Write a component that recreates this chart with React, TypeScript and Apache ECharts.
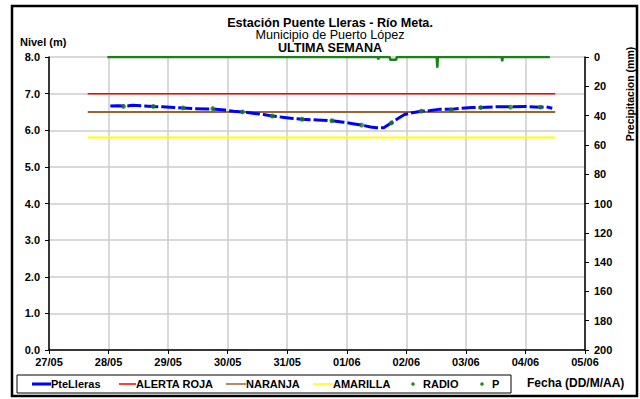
import React, { useEffect, useRef } from "react";
import * as echarts from "echarts";

// x positions are days since 27/05 00:00
const dateLabels = ["27/05", "28/05", "29/05", "30/05", "31/05", "01/06", "02/06", "03/06", "04/06", "05/06"];

const levelDays = [1.03, 1.15, 1.3, 1.4, 1.55, 1.75, 1.9, 2.1, 2.25, 2.45, 2.75, 2.95, 3.1, 3.25, 3.45, 3.6, 3.75, 3.95, 4.1, 4.25, 4.5, 4.75, 4.95, 5.1, 5.25, 5.4, 5.5, 5.62, 5.7, 5.78, 5.88, 5.97, 6.1, 6.25, 6.4, 6.55, 6.75, 6.9, 7.1, 7.25, 7.5, 7.75, 8.0, 8.25, 8.35, 8.45];
const levelValues = [6.66, 6.67, 6.66, 6.68, 6.67, 6.65, 6.64, 6.62, 6.61, 6.59, 6.58, 6.55, 6.52, 6.5, 6.46, 6.43, 6.39, 6.35, 6.32, 6.3, 6.28, 6.26, 6.22, 6.18, 6.14, 6.09, 6.07, 6.07, 6.15, 6.24, 6.34, 6.43, 6.48, 6.52, 6.54, 6.57, 6.57, 6.6, 6.62, 6.62, 6.64, 6.64, 6.65, 6.63, 6.64, 6.6];

const radioDays = [1.25, 1.75, 2.25, 2.75, 3.25, 3.75, 4.25, 4.75, 5.25, 5.75, 6.25, 6.75, 7.25, 7.75, 8.25];
const radioValues = [6.65, 6.65, 6.61, 6.59, 6.5, 6.39, 6.3, 6.26, 6.14, 6.2, 6.52, 6.56, 6.62, 6.63, 6.63];

const precipDays = [0.98, 5.52, 5.53, 5.54, 5.72, 5.73, 5.83, 5.84, 6.51, 6.52, 6.53, 7.6, 7.61, 7.62, 8.41];
const precipValues = [0, 0, 1.6, 0, 0, 1.8, 1.8, 0, 0, 7.3, 0, 0, 3, 0, 0];

const alertaRoja = 7.0;
const naranja = 6.5;
const amarilla = 5.8;
const thresholdStart = 0.65;
const thresholdEnd = 8.5;

const FONT = "'Liberation Sans', Arial, sans-serif";

export default function App() {
  const ref = useRef<HTMLDivElement>(null);
  useEffect(() => {
    if (!ref.current) return;
    const chart = echarts.init(ref.current, null, { renderer: "svg" });
    const pairs = (xs: number[], ys: number[]) => xs.map((x, i) => [x, ys[i]]);
    const flat = (v: number) => [[thresholdStart, v], [thresholdEnd, v]];
    const lbl = { fontFamily: FONT, fontWeight: "bold" as const, fontSize: 11, color: "#000" };
    const txt = { fontFamily: FONT, fontWeight: "bold" as const, fontSize: 11, fill: "#000", verticalAlign: "middle" as const };

    const legendY = 384;
    const legendItems: any[] = [
      { type: "rect", shape: { x: 17, y: 375, width: 494, height: 18 }, style: { fill: "#fff", stroke: "#000", lineWidth: 1 } },
      { type: "line", shape: { x1: 32, y1: legendY, x2: 51, y2: legendY }, style: { stroke: "#0000FF", lineWidth: 3 } },
      { type: "text", x: 51, y: legendY, style: { text: "PteLleras", ...txt } },
      { type: "line", shape: { x1: 119, y1: legendY, x2: 136, y2: legendY }, style: { stroke: "#FF0000", lineWidth: 1.5 } },
      { type: "text", x: 136, y: legendY, style: { text: "ALERTA ROJA", ...txt } },
      { type: "line", shape: { x1: 226, y1: legendY, x2: 246, y2: legendY }, style: { stroke: "#996633", lineWidth: 1.5 } },
      { type: "text", x: 246, y: legendY, style: { text: "NARANJA", ...txt } },
      { type: "line", shape: { x1: 313, y1: legendY, x2: 333, y2: legendY }, style: { stroke: "#FFFF00", lineWidth: 1.5 } },
      { type: "text", x: 333, y: legendY, style: { text: "AMARILLA", ...txt } },
      { type: "circle", shape: { cx: 413, cy: legendY, r: 1.8 }, style: { fill: "#1E8C1E" } },
      { type: "text", x: 423, y: legendY, style: { text: "RADIO", ...txt } },
      { type: "circle", shape: { cx: 482, cy: legendY, r: 1.8 }, style: { fill: "#1E8C1E" } },
      { type: "text", x: 492, y: legendY, style: { text: "P", ...txt } },
    ];

    const titleStyle = (weight: "bold" | "normal") => ({ fontFamily: FONT, fontSize: 12.6, lineHeight: 12, fontWeight: weight, color: "#000" });

    chart.setOption({
      animation: false,
      backgroundColor: "#fff",
      textStyle: { fontFamily: FONT },
      title: [
        { text: "Estación Puente Lleras - Río Meta.", left: 330, top: 16.5, padding: 0, textAlign: "center", textStyle: titleStyle("bold") },
        { text: "Municipio de Puerto López", left: 330, top: 29, padding: 0, textAlign: "center", textStyle: titleStyle("normal") },
        { text: "ULTIMA SEMANA", left: 330, top: 41.5, padding: 0, textAlign: "center", textStyle: titleStyle("bold") },
      ],
      graphic: [
        { type: "rect", shape: { x: 12, y: 6, width: 625, height: 390 }, style: { fill: "none", stroke: "#000", lineWidth: 2.5 } },
        { type: "text", x: 20, y: 42, style: { text: "Nivel (m)", ...txt } },
        { type: "text", x: 630, y: 94, rotation: Math.PI / 2, style: { text: "Precipitacion (mm)", ...txt, fontSize: 10.5, align: "center" } },
        { type: "text", x: 527, y: 383, style: { text: "Fecha (DD/M/AA)", ...txt, fontSize: 12 } },
        ...legendItems,
      ],
      grid: { left: 49, right: 55, top: 57, bottom: 49, containLabel: false },
      xAxis: {
        type: "value",
        min: 0,
        max: 9,
        interval: 1,
        axisLine: { lineStyle: { color: "#000", width: 1.5 } },
        axisTick: { length: 4, lineStyle: { color: "#000" } },
        axisLabel: { ...lbl, margin: 6, formatter: (v: number) => dateLabels[Math.round(v)] ?? "" },
        splitLine: { show: true, lineStyle: { color: "#CCCCCC", width: 1.5 } },
      },
      yAxis: [
        {
          type: "value",
          min: 0,
          max: 8,
          interval: 1,
          axisLine: { show: true, lineStyle: { color: "#000", width: 1.5 } },
          axisTick: { show: true, length: 4, lineStyle: { color: "#000" } },
          axisLabel: { ...lbl, margin: 9, formatter: (v: number) => v.toFixed(1) },
          splitLine: { show: true, lineStyle: { color: "#CCCCCC", width: 1.5 } },
        },
        {
          type: "value",
          min: 0,
          max: 200,
          interval: 20,
          inverse: true,
          position: "right",
          axisLine: { show: true, lineStyle: { color: "#000", width: 1.5 } },
          axisTick: { show: true, length: 4, lineStyle: { color: "#000" } },
          axisLabel: { ...lbl, margin: 9 },
          splitLine: { show: false },
        },
      ],
      series: [
        { name: "ALERTA ROJA", type: "line", data: flat(alertaRoja), symbol: "none", lineStyle: { color: "#FF0000", width: 1.5 }, z: 2 },
        { name: "NARANJA", type: "line", data: flat(naranja), symbol: "none", lineStyle: { color: "#996633", width: 2 }, z: 2 },
        { name: "AMARILLA", type: "line", data: flat(amarilla), symbol: "none", lineStyle: { color: "#FFFF00", width: 2 }, z: 2 },
        { name: "PteLleras", type: "line", data: pairs(levelDays, levelValues), symbol: "none", lineStyle: { color: "#0000FF", width: 3, type: [14, 3] }, z: 3 },
        { name: "RADIO", type: "scatter", data: pairs(radioDays, radioValues), symbol: "circle", symbolSize: 5, itemStyle: { color: "#1A801A" }, z: 4 },
        { name: "P", type: "line", yAxisIndex: 1, data: pairs(precipDays, precipValues), symbol: "none", lineStyle: { color: "#1A801A", width: 2.5 }, z: 4 },
      ],
    });
    return () => chart.dispose();
  }, []);
  return <div ref={ref} style={{ width: 640, height: 399, position: "absolute", left: 0, top: 0 }} />;
}
